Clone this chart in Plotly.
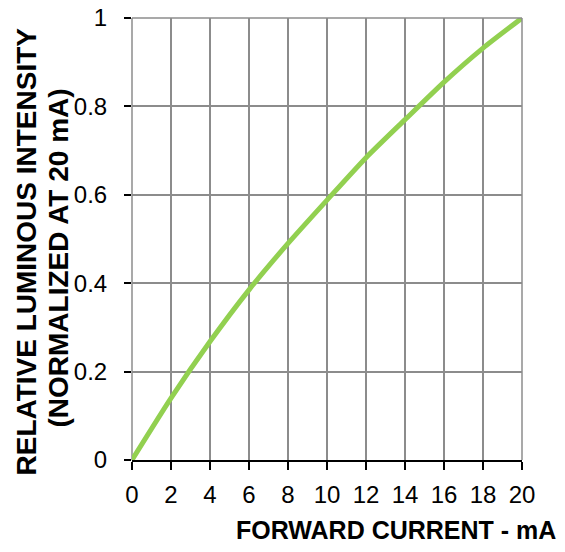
import plotly.graph_objects as go

current_ma = [0, 2, 4, 6, 8, 10, 12, 14, 16, 18, 20]
rel_intensity = [0.0, 0.14, 0.268, 0.385, 0.49, 0.588, 0.684, 0.77, 0.855, 0.932, 1.0]

x_ticks = [0, 2, 4, 6, 8, 10, 12, 14, 16, 18, 20]
y_ticks = [0, 0.2, 0.4, 0.6, 0.8, 1.0]
y_tick_labels = ["0", "0.2", "0.4", "0.6", "0.8", "1"]

x_title = "FORWARD CURRENT - mA"
y_title_1 = "RELATIVE LUMINOUS INTENSITY"
y_title_2 = "(NORMALIZED AT 20 mA)"

GRID = "#8c8c8c"
FONT = "Liberation Sans, Arial, sans-serif"

fig = go.Figure()
fig.add_trace(go.Scatter(
    x=current_ma, y=rel_intensity, mode="lines",
    line=dict(color="#92D050", width=5, shape="spline", smoothing=0.6),
    cliponaxis=False, showlegend=False, hoverinfo="skip",
))

fig.update_layout(
    width=565, height=552,
    margin=dict(l=132, r=43, t=18, b=92, autoexpand=False),
    paper_bgcolor="white", plot_bgcolor="white",
    font=dict(family=FONT, color="black", size=24),
    xaxis=dict(
        range=[0, 20], tickmode="array", tickvals=x_ticks,
        ticktext=[str(v) for v in x_ticks], automargin=False,
        showgrid=True, gridcolor=GRID, gridwidth=1.5,
        zeroline=False, showline=True, linecolor="black", linewidth=1.5,
        ticks="outside", ticklen=8, tickwidth=1.5, tickcolor="black",
        tickfont=dict(size=24, family=FONT, color="black"),
        ticklabelstandoff=4,
    ),
    yaxis=dict(
        range=[0, 1], tickmode="array", tickvals=y_ticks, ticktext=y_tick_labels,
        automargin=False,
        showgrid=True, gridcolor=GRID, gridwidth=1.5,
        zeroline=False, showline=False,
        ticks="outside", ticklen=7, tickwidth=1.5, tickcolor="black",
        tickfont=dict(size=24, family=FONT, color="black"),
        ticklabelstandoff=12,
    ),
)

# top and right borders (grey like the grid)
fig.add_shape(type="line", xref="paper", yref="paper", x0=0, x1=1, y0=1, y1=1,
              line=dict(color=GRID, width=1.5))
fig.add_shape(type="line", xref="paper", yref="paper", x0=1, x1=1, y0=0, y1=1,
              line=dict(color=GRID, width=1.5))
fig.add_shape(type="line", xref="paper", yref="paper", x0=0, x1=0, y0=0, y1=1,
              line=dict(color=GRID, width=1.5), layer="below")

fig.add_annotation(text="<b>%s</b>" % x_title, xref="paper", yref="paper",
                   x=(558 - 132) / 390, y=-(530 - 460) / 442,
                   xanchor="right", yanchor="middle", showarrow=False,
                   font=dict(size=25, family=FONT, color="black"))
fig.add_annotation(text="<b>%s</b>" % y_title_1, xref="paper", yref="paper",
                   x=-(132 - 25.5) / 390, y=(460 - 252) / 442,
                   xanchor="center", yanchor="middle", textangle=-90, showarrow=False,
                   font=dict(size=28, family=FONT, color="black"))
fig.add_annotation(text="<b>%s</b>" % y_title_2, xref="paper", yref="paper",
                   x=-(132 - 57.5) / 390, y=(460 - 258) / 442,
                   xanchor="center", yanchor="middle", textangle=-90, showarrow=False,
                   font=dict(size=28, family=FONT, color="black"))

fig.write_html("out.html", config={"displayModeBar": False},
               post_script="document.body.style.margin='0';document.body.style.overflow='hidden';")
